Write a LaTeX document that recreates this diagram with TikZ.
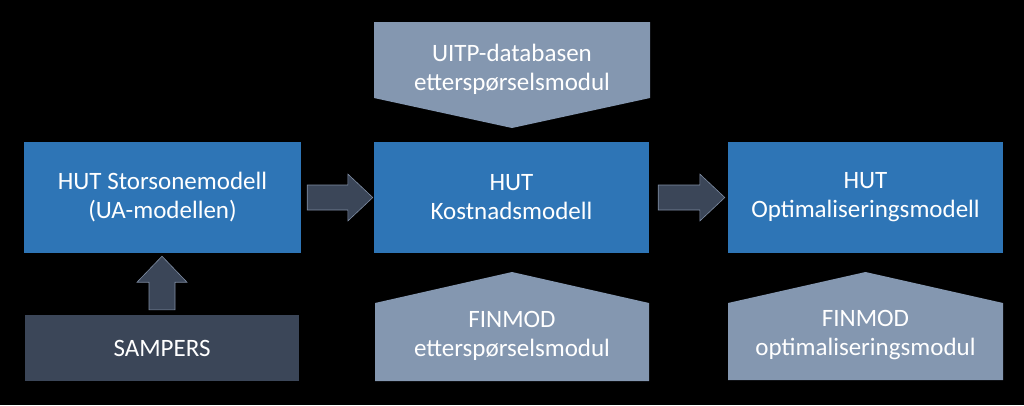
\documentclass[tikz,border=0pt]{standalone}
\usepackage{fontspec}
\setmainfont{Carlito}
\usetikzlibrary{calc}
\definecolor{boxblue}{HTML}{2E75B6}
\definecolor{boxgrey}{HTML}{8497B0}
\definecolor{boxdark}{HTML}{3B4658}
\definecolor{arrowfill}{HTML}{3B4658}
\definecolor{arrowline}{HTML}{7F8DA3}
\begin{document}
\begin{tikzpicture}[x=1pt,y=-1pt,
  lbl/.style={text=white,font=\fontsize{25}{29}\selectfont,align=center,inner sep=0pt},
  bluebox/.style={lbl,fill=boxblue,minimum width=275pt,minimum height=111pt},
  darkbox/.style={lbl,fill=boxdark,minimum width=274pt,minimum height=66pt},
  pent/.style={fill=boxgrey},
  blockarrow/.style={fill=arrowfill,draw=arrowline,line width=0.6pt,line join=miter}]
\fill[black] (0,0) rectangle (1024,405);
\useasboundingbox (0,0) rectangle (1024,405);
% main boxes
\node[bluebox,minimum width=277pt] (stor) at (162.5,197.5) {HUT Storsonemodell\\(UA-modellen)};
\node[bluebox] (kost) at (511.5,197.5) {HUT\\Kostnadsmodell};
\node[bluebox] (opt) at (865.5,197.5) {HUT\\Optimaliseringsmodell};
\node[darkbox] (samp) at (162,348) {SAMPERS};
% pentagons
\fill[pent] (374,22) -- (650,22) -- (650,98) -- (512,128) -- (374,98) -- cycle;
\node[lbl] (uitp) at (512,69) {UITP-databasen\\etterspørselsmodul};
\fill[pent] (375,381) -- (649,381) -- (649,303) -- (512,272) -- (375,303) -- cycle;
\node[lbl] (fin1) at (512,336) {FINMOD\\etterspørselsmodul};
\fill[pent] (728,380) -- (1003,380) -- (1003,303) -- (865.5,272) -- (728,303) -- cycle;
\node[lbl] (fin2) at (865.5,335) {FINMOD\\optimaliseringsmodul};
% block arrows
\draw[blockarrow] ($(stor.east)+(6,-12.5)$) -- ($(kost.west)+(-26,-12.5)$) -- ($(kost.west)+(-26,-23.5)$)
  -- ($(kost.west)+(-1,0)$) -- ($(kost.west)+(-26,23.5)$) -- ($(kost.west)+(-26,12.5)$)
  -- ($(stor.east)+(6,12.5)$) -- cycle;
\draw[blockarrow] ($(kost.east)+(9,-12.5)$) -- ($(opt.west)+(-28,-12.5)$) -- ($(opt.west)+(-28,-23.5)$)
  -- ($(opt.west)+(-3,0)$) -- ($(opt.west)+(-28,23.5)$) -- ($(opt.west)+(-28,12.5)$)
  -- ($(kost.east)+(9,12.5)$) -- cycle;
\draw[blockarrow] ($(samp.north)+(-13,-5)$) -- ($(stor.south)+(-13.5,29)$) -- ($(stor.south)+(-25.5,29)$)
  -- ($(stor.south)+(-0.5,3)$) -- ($(stor.south)+(24.5,29)$) -- ($(stor.south)+(12.5,29)$)
  -- ($(samp.north)+(13,-5)$) -- cycle;
\end{tikzpicture}
\end{document}
